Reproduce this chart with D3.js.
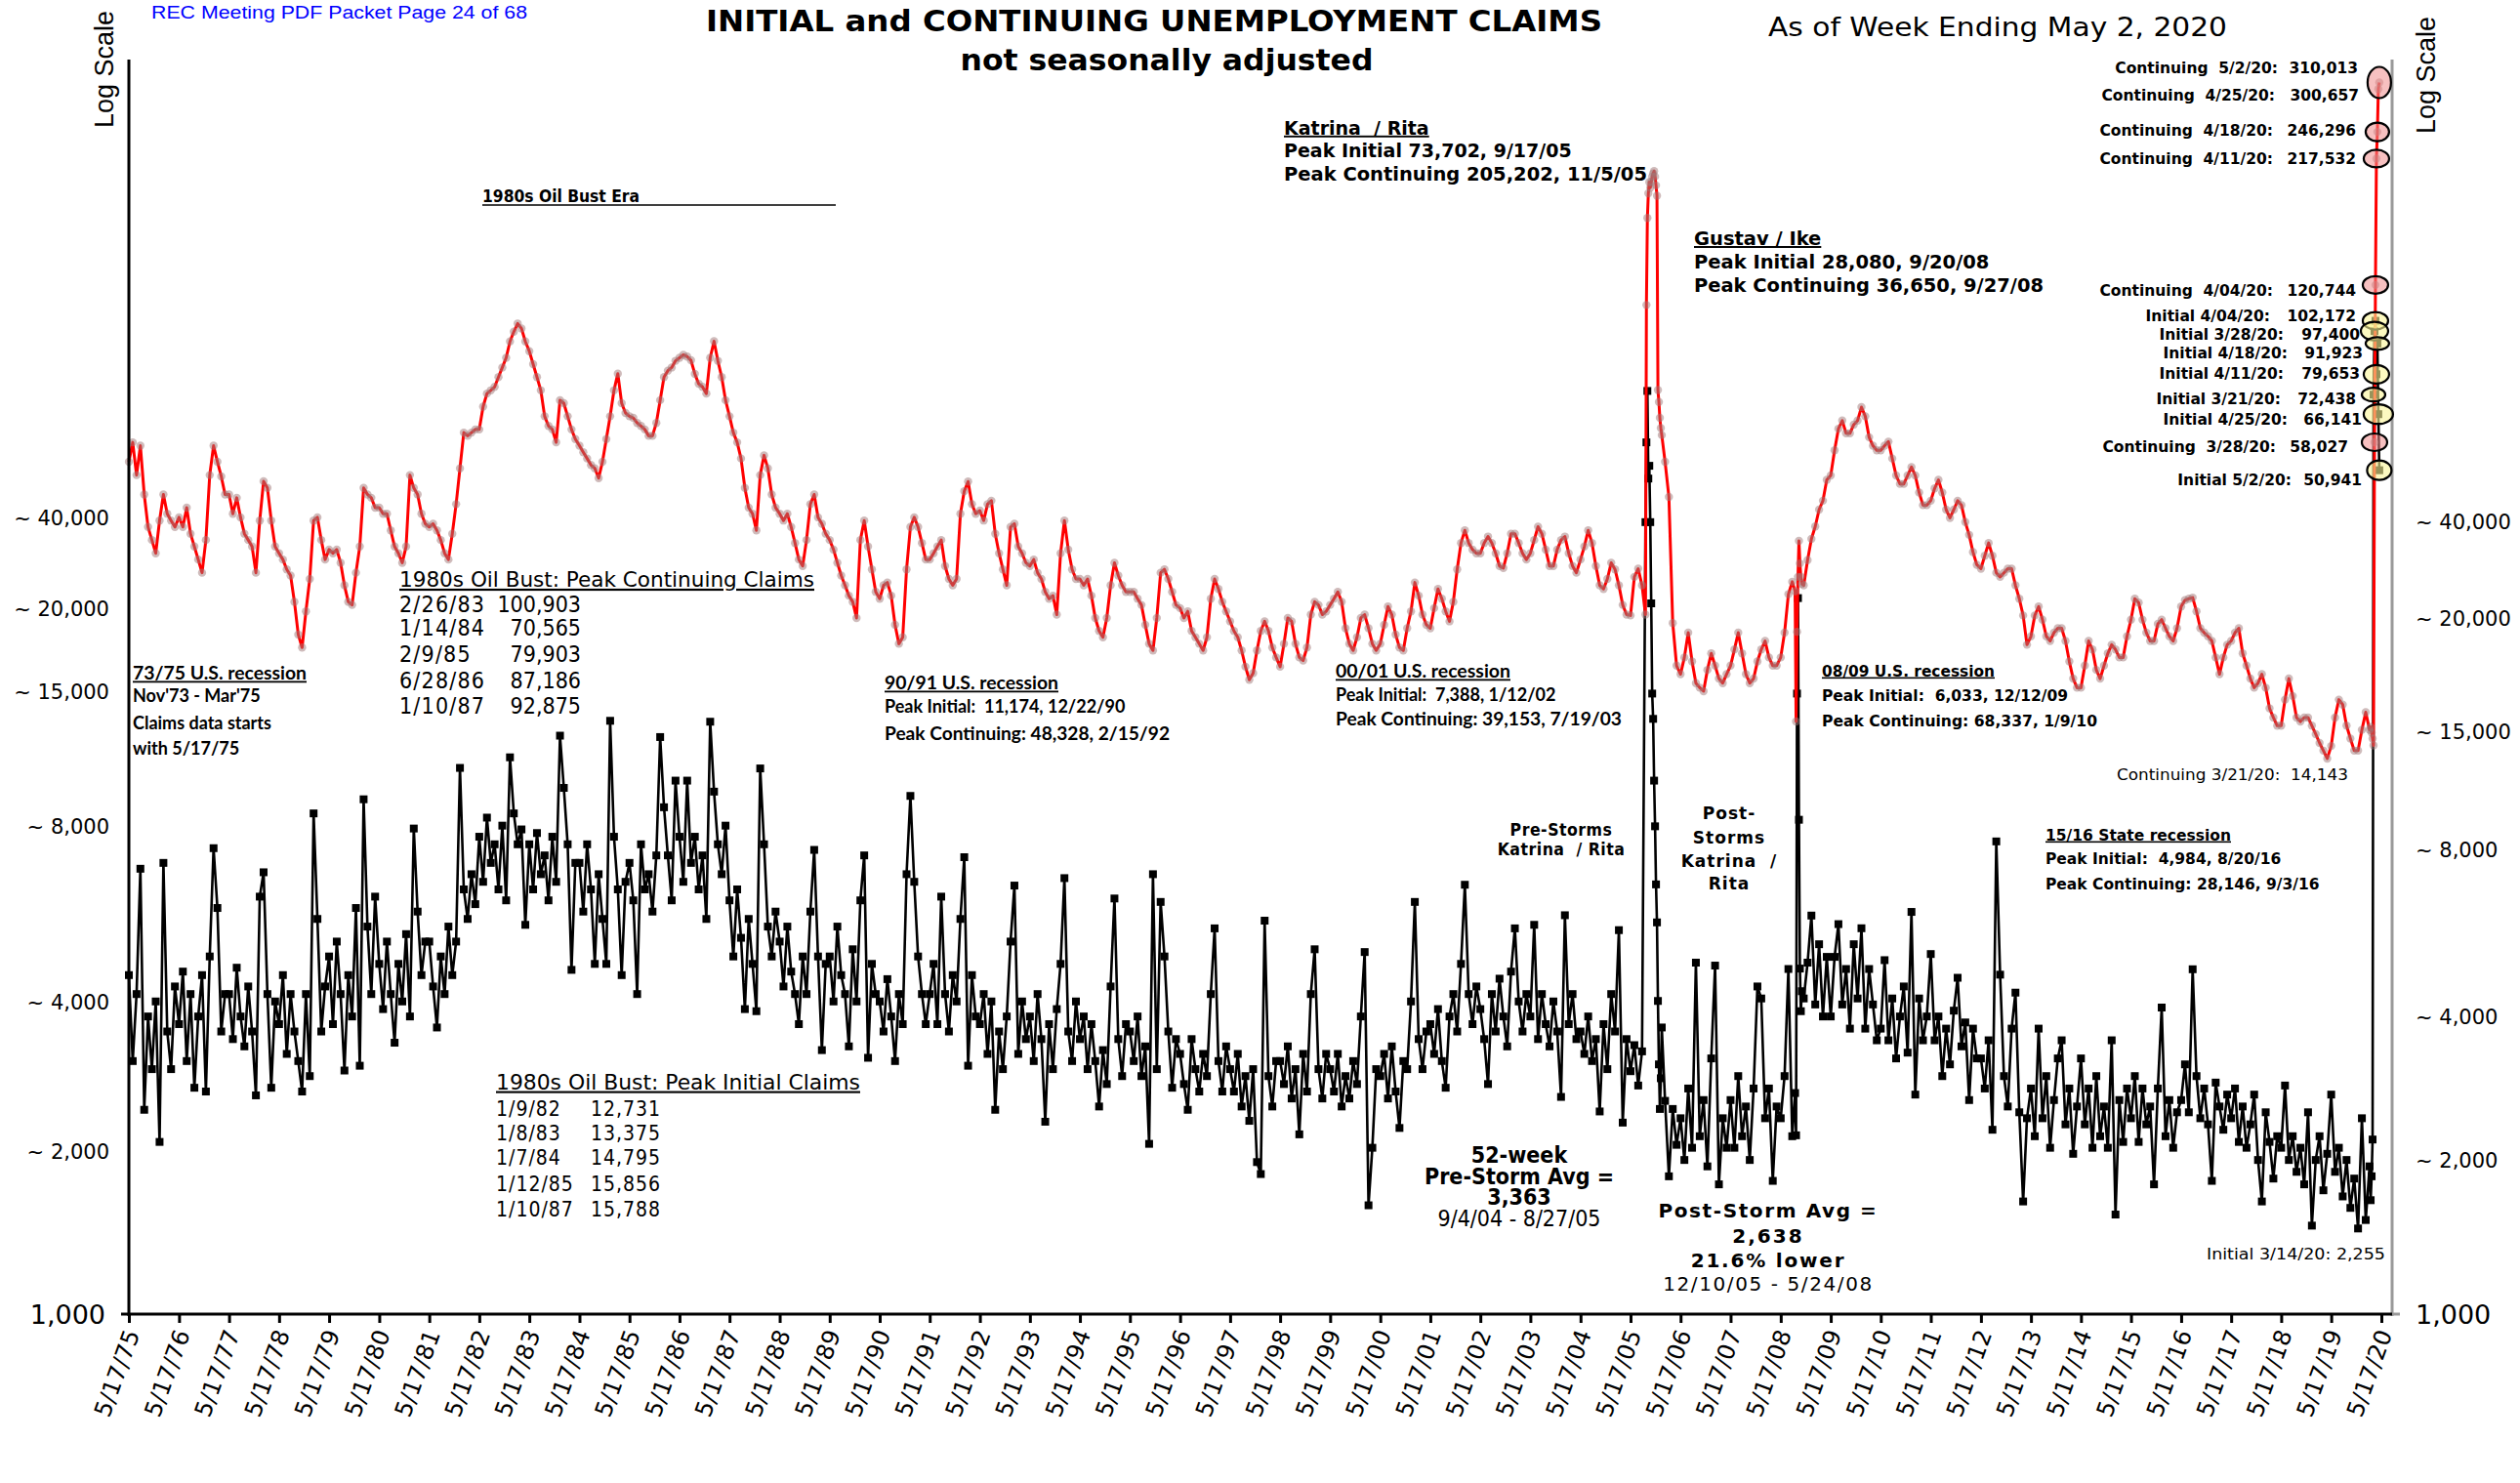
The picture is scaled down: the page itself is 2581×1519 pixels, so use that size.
<!DOCTYPE html>
<html>
<head>
<meta charset="utf-8">
<script src="https://cdn.jsdelivr.net/npm/d3@7"></script>
<style>
  html, body { margin: 0; padding: 0; background: #fff; }
  svg text { white-space: pre; }
</style>
</head>
<body>
<svg id="chart" width="2581" height="1519"></svg>
<script>
// Continuing claims, one row per year starting 5/17, a reading every 4 weeks (null = see stormWeeks)
var continuingRows = [
  [53000,58000,49800,57100,45500,39100,36800,34600,40300,45500,41600,40300,39100],
  [40900,39100,42800,37900,35700,33600,31600,36800,49800,57100,53000,49500,45500],
  [45500,41600,44800,40900,37900,36800,35700,31600,40300,48400,46900,40300,35700],
  [34600,33600,32100,31200,27600,23700,22300,26400,30700,40300,40900,36800,33600],
  [35200,34600,35200,33100,29800,27600,27200,31600,35700,46900,45500,44800,42800],
  [42800,41600,41600,38500,35700,34600,33100,35700,49800,46900,45500,41600,39700],
  [39100,39700,38500,36800,34600,33600,37900,43500,51400,60700,59800,60700,61600],
  [61600,68500,72800,73900,75100,78600,82200,86000,92800,97100,100903,98600,92800],
  [88700,83500,78600,73900,65500,62600,61600,58000,70565,69600,65500,61600,58900],
  [57100,55400,53800,52200,51400,49100,53000,58900,65500,73900,79903,69600,66500],
  [65500,65000,63500,62600,61600,59800,59800,63500,70600,78600,81000,82200,84800],
  [86000,87186,86500,85000,79800,76200,75100,72800,86000,92875,84800,78600,70600],
  [65500,60700,58000,53800,46900,42800,41600,38500,49800,54600,51400,45500,42800],
  [41600,40300,41600,39100,36300,33600,32600,36800,43500,45500,40900,39700,37900],
  [36800,35200,33100,31200,29800,28400,27600,25600,36800,40300,35700,32100,28900],
  [28000,29800,30200,28400,24800,22700,23400,32100,39100,40900,39100,36300,33600],
  [33600,34600,35700,36800,32600,30700,29800,30700,41600,46200,48328,43500,41600],
  [42200,40300,43500,44200,37900,34600,32100,29800,39100,39700,35700,34600,33100],
  [32600,33600,31600,30700,28900,28000,28400,26000,34600,40300,35200,32100,30700],
  [30700,29800,30700,28400,25600,24100,23400,25600,29800,33100,31200,29800,28900],
  [28900,28900,28000,27200,24800,22700,22000,25600,31600,32100,30700,28900,27200],
  [26800,25600,26400,24100,23400,22700,22000,23400,28000,30700,29300,27600,26400],
  [25200,24100,23400,22000,20400,19200,19800,22000,24100,25200,24100,22300,21300],
  [20400,22700,25600,25200,22700,21300,21000,22300,26000,27600,27200,26000,26400],
  [27200,28000,28900,27600,24400,22700,22000,23400,25600,26000,24400,22700,22000],
  [22700,24800,27000,26000,23700,22300,22000,24400,26400,30200,28400,26000,24800],
  [24400,26800,29300,28000,26400,25200,27600,32100,36300,38500,36300,35200,34600],
  [34600,36300,37400,36300,34600,32600,32300,34600,37900,37900,36300,34600,33600],
  [34600,36800,39153,37900,35200,32600,32600,35200,36800,37400,34600,32600,31600],
  [33600,35700,38500,36300,32600,29800,29300,30700,33100,32100,29800,27200,26000],
  [25900,31000,32200,29800,null,null,null,null,null,53000,45000,25000,20500],
  [19700,21300,23900,20900,18900,18500,18200,20100,21700,20500,19300,18900,19700],
  [20500,22100,23900,21700,19700,18900,19300,20900,22100,23000,21300,20500,20500],
  [21300,23900,28600,30300,null,null,29800,33500,37000,39200,42400,44200,48700],
  [49700,55900,61800,64200,60500,60500,63000,64200,68337,65500,59400,57100,55900],
  [55900,57100,58200,53800,49700,47800,47800,49700,51700,49700,45900,43300,43300],
  [44200,46800,48700,45900,42400,40800,42400,44200,43300,40000,37700,34800,32800],
  [32200,34200,36300,34200,31600,31000,31600,32200,32200,29800,28000,25900,22600],
  [23500,25900,27000,25400,23500,23000,23900,24400,24400,23000,20900,19300,18500],
  [18500,20500,23000,22100,20100,19300,20500,21700,22600,22100,21300,21300,23500],
  [25400,28000,27500,25400,23900,23000,23000,24900,25400,24400,23500,23000,24400],
  [27000,27800,28000,28146,26400,24400,23900,23500,23000,21300,19700,21300,22600],
  [23000,23900,24400,21700,20500,19300,18500,18900,19700,18500,16800,16100,15500],
  [15500,17500,19300,17800,16100,15800,16100,16100,15500,14900,14300,13800,13300],
  [14100,16100,17500,17100,15500,14600,13800,13800,15200,16500,15200]
];

// Initial claims, same layout
var initialRows = [
  [4850,3250,4440,7960,2590,4000,3130,4290,2230,8180,3730,3130,4600],
  [3860,4930,3250,4440,2870,4000,4850,2820,5290,8760,6630,3730,4440],
  [4440,3600,5020,4000,3480,4600,3730,2770,6990,7830,4440,2870,4290],
  [3860,4850,3360,4440,3730,3250,2820,4440,3030,10300,6300,3730,4600],
  [5290,3860,5670,4440,3110,4850,4000,6630,3180,11000,6080,4440,6990],
  [5110,4140,5670,4440,3540,5110,4290,5870,4000,9600,6520,4850,5670],
  [5670,4600,3800,5290,4440,6080,4850,5670,12731,7230,6300,7760,6750],
  [9240,7490,10100,8180,8920,7230,9730,6870,13375,10300,8920,9560,6130],
  [8920,7230,9400,7760,8470,6870,9240,7490,14795,11600,8920,4970,8180],
  [8180,6520,8920,7230,5110,7760,6300,5110,15856,9240,7230,4850,7490],
  [8180,6870,4440,8920,7230,7760,6520,8470,14700,10600,8470,6870,12000],
  [9240,7490,12000,8180,9240,7230,8470,6300,15788,11400,8920,7760,9730],
  [6870,5290,7230,5770,4140,6300,5110,4100,12700,8920,6080,5290,6520],
  [5670,4600,6080,4930,4440,3860,5290,4440,6520,8690,5290,3420,5110],
  [5290,4290,6080,4850,4440,3480,5470,4290,6870,8470,3300,5110,4440],
  [4290,3730,4760,4000,3250,4440,3860,7760,11174,7490,5290,4440,3860],
  [4440,5110,3860,6990,4440,3730,4850,4290,6300,8400,3180,4850,4000],
  [3860,4440,3360,4290,2590,3730,3130,4000,5670,7360,3360,4290,3600],
  [4000,3250,4440,3600,2450,3860,3130,4140,5110,7620,3730,3250,4290],
  [3600,4000,3130,3860,3250,2630,3420,2920,4600,6930,3600,3030,3860],
  [3730,3250,4000,3030,3480,2210,7760,3130,6820,5290,3730,2870,3600],
  [3360,2920,2590,3600,3130,2820,3360,3030,4440,6030,3250,2820,3480],
  [3130,2820,3360,2630,3030,2460,3130,2030,1920,6250,3030,2630,3250],
  [3250,2920,3480,2730,3130,2310,3360,2820,4440,5470,3130,2730,3360],
  [3130,2820,3360,2630,3030,2730,3250,2920,4000,5400,1660,2170,3130],
  [3030,3360,2730,3480,2820,2380,3250,3130,4290,6820,3600,3130,3730],
  [3860,3360,4140,3250,2870,4000,4440,3730,5110,7388,4440,3860,4600],
  [4140,3600,2920,4440,3730,4770,4000,3480,4930,6030,4290,3730,4440],
  [4000,6130,3600,4440,3860,3480,4290,3730,2750,6410,3860,4440,3600],
  [3730,3360,4000,3250,3600,2570,3860,3130,4440,3730,5980,2440,3600],
  [3100,3500,2900,3400,null,null,null,null,null,2700,1900,2600,2200],
  [2490,2050,2860,2170,5140,2290,2710,1990,3290,5070,1830,2490,2170],
  [2710,2170,3030,2290,2630,2050,2860,4600,4350,2490,2860,1860,2630],
  [2490,3030,4990,2290,null,null,4350,5140,6400,4230,5600,4000,5280],
  [4000,5280,6150,4230,4990,3780,5600,4350,6033,3780,4990,4230,3580],
  [3780,5200,3580,4350,3290,4000,4600,3380,6510,2780,4350,3580,4000],
  [5350,3580,4000,3030,3780,3200,4110,4790,3480,3890,2710,3780,3290],
  [3290,2860,3580,2360,9040,4860,3030,2630,3780,4470,2560,1690,2490],
  [2860,2290,3780,2490,3030,2170,2710,3290,3580,2420,2860,2110,2630],
  [3290,2420,2860,2170,3030,2290,2630,2170,3580,1590,2710,2230,2860],
  [2490,3030,2230,2860,2420,2630,1830,2860,4170,2290,2710,2170,2560],
  [2710,3200,2560,4984,3030,2490,2860,2420,1860,2940,2630,2360,2780],
  [2490,2860,2230,2630,2170,2420,2780,2050,1690,2560,2230,1880,2290],
  [2170,2900,2050,2290,1940,2170,1830,2560,1510,2050,2290,1780,2110],
  [2780,1940,2170,1730,2050,1640,1880,1490,2490,1550,1990]
];

// weekly readings around Katrina/Rita, Gustav/Ike and the 2020 spike
var stormWeeks = [
  "2005-09-03","2005-09-10","2005-09-17","2005-09-24","2005-10-01","2005-10-08","2005-10-15","2005-10-22","2005-10-29",
  "2005-11-05","2005-11-12","2005-11-19","2005-11-26","2005-12-03","2005-12-10","2005-12-17","2005-12-24","2005-12-31",
  "2008-08-30","2008-09-06","2008-09-13","2008-09-20","2008-09-27","2008-10-04","2008-10-11","2008-10-18",
  "2020-02-29","2020-03-07","2020-03-14","2020-03-21","2020-03-28","2020-04-04","2020-04-11","2020-04-18","2020-04-25","2020-05-02"
];
var stormContinuing = [
  26000,110000,165000,185000,195000,190000,195000,200000,203000,
  205202,200000,192000,183000,74000,70000,65000,62000,60000,
  29000,15800,24000,31000,36650,33000,31000,30000,
  15400,15000,14600,14143,58027,120744,217532,246296,300657,310013
];
var stormInitial = [
  40000,58000,73702,49000,52000,40000,27400,18000,16000,
  12000,9700,7400,6200,4300,3200,2600,3000,3800,
  2800,2300,18000,28080,10000,5000,4100,4500,
  1700,1900,2255,72438,97400,102172,79653,91923,66141,50941
];

// axis labels (the chart's own text boxes, and the values they sit at)
var leftTickLabels = ["~ 40,000","~ 20,000","~ 15,000","~ 8,000","~ 4,000","~ 2,000","1,000"];
var leftTickValues = [40800, 26700, 18200, 9700, 4270, 2130, 1000];
var rightTickLabels = ["~ 40,000","~ 20,000","~ 15,000","~ 8,000","~ 4,000","~ 2,000","1,000"];
var rightTickValues = [40000, 25500, 15100, 8700, 4000, 2050, 1000];
var tickYears = d3.range(1975, 2021);

// 1980s tables
var oilContDates = ["2/26/83","1/14/84","2/9/85","6/28/86","1/10/87"];
var oilContValues = [100903, 70565, 79903, 87186, 92875];
var oilInitDates = ["1/9/82","1/8/83","1/7/84","1/12/85","1/10/87"];
var oilInitValues = [12731, 13375, 14795, 15856, 15788];

// 2020 callouts
var calloutSeries = ["cont","cont","cont","cont","cont","init","init","init","init","init","init","cont","init"];
var calloutWeeks = ["2020-05-02","2020-04-25","2020-04-18","2020-04-11","2020-04-04","2020-04-04","2020-03-28",
                    "2020-04-18","2020-04-11","2020-03-21","2020-04-25","2020-03-28","2020-05-02"];
var calloutNames = ["Continuing  5/2/20:","Continuing  4/25/20:","Continuing  4/18/20:","Continuing  4/11/20:",
                    "Continuing  4/04/20:","Initial 4/04/20:","Initial 3/28/20:","Initial 4/18/20:","Initial 4/11/20:",
                    "Initial 3/21/20:","Initial 4/25/20:","Continuing  3/28/20:","Initial 5/2/20:"];

// ---------- layout ----------
var VERD = "'DejaVu Sans', Verdana, sans-serif";
var TAHO = "'DejaVu Sans Condensed', 'DejaVu Sans', Tahoma, sans-serif";
var CALI = "Lato, 'Open Sans', sans-serif";
var ARIAL = "'Liberation Sans', Arial, sans-serif";

var svg = d3.select('#chart');
svg.append('rect').attr('width', 2581).attr('height', 1519).attr('fill', '#fff');

var parseDay = d3.timeParse('%Y-%m-%d');
var x = d3.scaleTime().domain([new Date(1975, 4, 17), new Date(2020, 4, 17)]).range([132, 2439]);
var y = d3.scaleLog().domain([1000, 345000]).range([1346, 61]);
var fmt = d3.format(',');

function buildSeries(rows, extra) {
  var pts = [];
  rows.forEach(function(row, k) {
    var start = new Date(1975 + k, 4, 17);
    row.forEach(function(v, j) {
      if (v == null) return;
      pts.push({date: d3.timeDay.offset(start, 28 * j), value: v});
    });
  });
  stormWeeks.forEach(function(w, i) {
    pts.push({date: parseDay(w), value: extra[i]});
  });
  pts.sort(function(a, b) { return a.date - b.date; });
  return pts;
}

var contSeries = buildSeries(continuingRows, stormContinuing);
var initSeries = buildSeries(initialRows, stormInitial);

var line = d3.line().x(function(d) { return x(d.date); }).y(function(d) { return y(d.value); });

// initial claims (black, square markers)
var gInit = svg.append('g');
gInit.append('path').datum(initSeries).attr('d', line)
  .attr('fill', 'none').attr('stroke', '#000').attr('stroke-width', 2.6).attr('stroke-linejoin', 'round');
gInit.selectAll('rect').data(initSeries).enter().append('rect')
  .attr('x', function(d) { return x(d.date) - 4; })
  .attr('y', function(d) { return y(d.value) - 4; })
  .attr('width', 8).attr('height', 8).attr('fill', '#000');

// continuing claims (red, grey dot markers)
var gCont = svg.append('g');
gCont.append('path').datum(contSeries).attr('d', line)
  .attr('fill', 'none').attr('stroke', '#ff0000').attr('stroke-width', 3).attr('stroke-linejoin', 'round');
gCont.selectAll('circle').data(contSeries).enter().append('circle')
  .attr('cx', function(d) { return x(d.date); })
  .attr('cy', function(d) { return y(d.value); })
  .attr('r', 4.2).attr('fill', '#a07878').attr('fill-opacity', 0.5);

// ---------- axes ----------
svg.append('line').attr('x1', 132).attr('x2', 132).attr('y1', 61).attr('y2', 1348)
  .attr('stroke', '#000').attr('stroke-width', 3);
svg.append('line').attr('x1', 124).attr('x2', 132).attr('y1', 1346).attr('y2', 1346)
  .attr('stroke', '#000').attr('stroke-width', 3);
svg.append('line').attr('x1', 2450).attr('x2', 2450).attr('y1', 61).attr('y2', 1348)
  .attr('stroke', '#999').attr('stroke-width', 3);
svg.append('line').attr('x1', 2450).attr('x2', 2458).attr('y1', 1346).attr('y2', 1346)
  .attr('stroke', '#999').attr('stroke-width', 3);

var xAxis = d3.axisBottom(x)
  .tickValues(tickYears.map(function(yr) { return new Date(yr, 4, 17); }))
  .tickFormat(d3.timeFormat('%-m/%-d/%y'))
  .tickSize(9).tickSizeOuter(0);
var gx = svg.append('g').attr('transform', 'translate(0,1346)').call(xAxis);
gx.select('.domain').attr('d', 'M132,0H2450').attr('stroke', '#000').attr('stroke-width', 3);
gx.selectAll('.tick line').attr('stroke', '#000').attr('stroke-width', 3);
gx.selectAll('.tick text')
  .attr('x', 0).attr('y', 0).attr('dy', 0)
  .attr('transform', 'translate(11,20) rotate(-70)')
  .style('text-anchor', 'end')
  .attr('font-family', VERD).attr('font-size', 24).attr('fill', '#000');

svg.append('g').selectAll('text').data(leftTickLabels).enter().append('text')
  .attr('x', function(d, i) { return i === 6 ? 108 : 112; })
  .attr('y', function(d, i) { return y(leftTickValues[i]); })
  .attr('dy', '0.36em').attr('text-anchor', 'end')
  .attr('font-family', VERD).attr('font-size', function(d, i) { return i === 6 ? 27 : 21; })
  .text(function(d) { return d; });

svg.append('g').selectAll('text').data(rightTickLabels).enter().append('text')
  .attr('x', 2474)
  .attr('y', function(d, i) { return y(rightTickValues[i]); })
  .attr('dy', '0.36em').attr('text-anchor', 'start')
  .attr('font-family', VERD).attr('font-size', function(d, i) { return i === 6 ? 27 : 21; })
  .text(function(d) { return d; });

// ---------- text helper ----------
function txt(xp, yp, s, o) {
  o = o || {};
  var t = svg.append('text').attr('x', xp).attr('y', yp).attr('dy', '0.36em').text(s)
    .attr('font-family', o.font || VERD).attr('font-size', o.size || 16)
    .attr('text-anchor', o.anchor || 'start').attr('fill', o.color || '#000');
  if (o.bold) t.attr('font-weight', 'bold');
  if (o.under) t.attr('text-decoration', 'underline');
  if (o.len) t.attr('textLength', o.len).attr('lengthAdjust', 'spacingAndGlyphs');
  if (o.ls) t.attr('letter-spacing', o.ls);
  return t;
}

// header
txt(155, 13, 'REC Meeting PDF Packet Page 24 of 68', {font: ARIAL, size: 18, color: '#0000ff', len: 385});
txt(1182, 21, 'INITIAL and CONTINUING UNEMPLOYMENT CLAIMS', {font: TAHO, size: 30, bold: true, anchor: 'middle', len: 918});
txt(1195, 61, 'not seasonally adjusted', {font: TAHO, size: 30, bold: true, anchor: 'middle', len: 423});
txt(1811, 28, 'As of Week Ending May 2, 2020', {font: VERD, size: 26, len: 470});
svg.append('text').attr('transform', 'translate(106,71) rotate(-90)').attr('dy', '0.36em')
  .attr('text-anchor', 'middle').attr('font-family', ARIAL).attr('font-size', 27).text('Log Scale');
svg.append('text').attr('transform', 'translate(2484,77) rotate(-90)').attr('dy', '0.36em')
  .attr('text-anchor', 'middle').attr('font-family', ARIAL).attr('font-size', 27).text('Log Scale');

// event notes
txt(494, 201, '1980s Oil Bust Era', {font: TAHO, size: 17, bold: true, len: 161});
svg.append('line').attr('x1', 494).attr('x2', 856).attr('y1', 210).attr('y2', 210).attr('stroke', '#000').attr('stroke-width', 1.5);

txt(1315, 131, 'Katrina  / Rita', {size: 19, bold: true, under: true});
txt(1315, 154, 'Peak Initial 73,702, 9/17/05', {size: 19, bold: true});
txt(1315, 178, 'Peak Continuing 205,202, 11/5/05', {size: 19, bold: true, len: 372});

txt(1735, 244, 'Gustav / Ike', {size: 19.5, bold: true, under: true});
txt(1735, 268, 'Peak Initial 28,080, 9/20/08', {size: 19.5, bold: true});
txt(1735, 292, 'Peak Continuing 36,650, 9/27/08', {size: 19.5, bold: true, len: 358});

txt(136, 690, '73/75 U.S. recession', {font: CALI, size: 18, bold: true, under: true, len: 178});
txt(136, 713, "Nov'73 - Mar'75", {font: CALI, size: 18, bold: true});
txt(136, 741, 'Claims data starts', {font: CALI, size: 18, bold: true});
txt(136, 767, 'with 5/17/75', {font: CALI, size: 18, bold: true});

txt(906, 700, '90/91 U.S. recession', {font: CALI, size: 18, bold: true, under: true, len: 178});
txt(906, 724, 'Peak Initial:  11,174, 12/22/90', {font: CALI, size: 18, bold: true});
txt(906, 752, 'Peak Continuing: 48,328, 2/15/92', {font: CALI, size: 18, bold: true, len: 292});

txt(1368, 688, '00/01 U.S. recession', {font: CALI, size: 18, bold: true, under: true, len: 179});
txt(1368, 712, 'Peak Initial:  7,388, 1/12/02', {font: CALI, size: 18, bold: true});
txt(1368, 737, 'Peak Continuing: 39,153, 7/19/03', {font: CALI, size: 18, bold: true, len: 293});

txt(1866, 687, '08/09 U.S. recession', {size: 15.5, bold: true, under: true, len: 177});
txt(1866, 712, 'Peak Initial:  6,033, 12/12/09', {size: 15.5, bold: true});
txt(1866, 738, 'Peak Continuing: 68,337, 1/9/10', {size: 15.5, bold: true, len: 282});

txt(2095, 855, '15/16 State recession', {size: 15.5, bold: true, under: true, len: 190});
txt(2095, 879, 'Peak Initial:  4,984, 8/20/16', {size: 15.5, bold: true});
txt(2095, 905, 'Peak Continuing: 28,146, 9/3/16', {size: 15.5, bold: true});

txt(2405, 793, 'Continuing 3/21/20:  ' + fmt(14143), {size: 15.5, anchor: 'end', len: 237});
txt(2443, 1285, 'Initial 3/14/20: ' + fmt(2255), {font: TAHO, size: 15, anchor: 'end', len: 183});

txt(1599, 850, 'Pre-Storms', {font: TAHO, size: 17.5, bold: true, anchor: 'middle', ls: 0.5});
txt(1599, 870, 'Katrina  / Rita', {font: TAHO, size: 17.5, bold: true, anchor: 'middle', ls: 0.5});

['Post-', 'Storms', 'Katrina  /', 'Rita'].forEach(function(s, i) {
  txt(1771, [833, 858, 882, 905][i], s, {size: 17, bold: true, anchor: 'middle', ls: 1});
});

txt(1556, 1183, '52-week', {font: TAHO, size: 23, bold: true, anchor: 'middle'});
txt(1556, 1205, 'Pre-Storm Avg =', {font: TAHO, size: 23, bold: true, anchor: 'middle'});
txt(1556, 1226, '3,363', {font: TAHO, size: 23, bold: true, anchor: 'middle'});
txt(1556, 1248, '9/4/04 - 8/27/05', {font: TAHO, size: 23, anchor: 'middle'});

txt(1811, 1240, 'Post-Storm Avg =', {size: 20, bold: true, anchor: 'middle', ls: 1.6});
txt(1811, 1266, '2,638', {size: 20, bold: true, anchor: 'middle', ls: 2});
txt(1811, 1291, '21.6% lower', {size: 20, bold: true, anchor: 'middle', ls: 1.8});
txt(1811, 1315, '12/10/05 - 5/24/08', {size: 20, anchor: 'middle', ls: 1.6});

// 1980s tables
txt(409, 593, '1980s Oil Bust: Peak Continuing Claims', {font: TAHO, size: 22, under: true, len: 425});
oilContDates.forEach(function(d, i) {
  var yy = [619, 643, 670, 697, 723][i];
  txt(409, yy, d, {font: TAHO, size: 23, ls: 1.2});
  txt(595, yy, fmt(oilContValues[i]), {font: TAHO, size: 23, anchor: 'end'});
});
txt(508, 1108, '1980s Oil Bust: Peak Initial Claims', {font: TAHO, size: 21, under: true, len: 373});
oilInitDates.forEach(function(d, i) {
  var yy = [1135, 1160, 1185, 1212, 1238][i];
  txt(508, yy, d, {font: TAHO, size: 21, ls: 1});
  txt(605, yy, fmt(oilInitValues[i]), {font: TAHO, size: 21, ls: 1});
});

// ---------- 2020 callouts ----------
var calloutY = [69, 97, 133, 162, 297, 323, 342, 361, 382, 408, 429, 457, 491];
var nameEnd = [2333, 2330, 2328, 2328, 2328, 2325, 2339, 2343, 2339, 2336, 2343, 2331, 2347];
var valueEnd = [2415, 2416, 2413, 2413, 2413, 2413, 2417, 2420, 2417, 2413, 2419, 2405, 2419];
var ellRx = [12, 0, 12, 13, 13, 13, 14, 12, 13, 12, 15, 13, 12.5];
var ellRy = [16, 0, 9.5, 9, 9, 9, 9.5, 6.5, 9.5, 7, 10, 9, 10];

var gCall = svg.append('g');
calloutWeeks.forEach(function(w, i) {
  var k = stormWeeks.indexOf(w);
  var v = calloutSeries[i] === 'cont' ? stormContinuing[k] : stormInitial[k];
  if (ellRx[i] > 0) {
    gCall.append('ellipse')
      .attr('cx', x(parseDay(w))).attr('cy', y(v))
      .attr('rx', ellRx[i]).attr('ry', ellRy[i])
      .attr('fill', calloutSeries[i] === 'cont' ? 'rgba(240,140,140,0.55)' : 'rgba(250,245,150,0.6)')
      .attr('stroke', '#000').attr('stroke-width', 2.2);
  }
  txt(nameEnd[i], calloutY[i], calloutNames[i], {size: 15.5, bold: true, anchor: 'end'});
  txt(valueEnd[i], calloutY[i], fmt(v), {size: 15.5, bold: true, anchor: 'end'});
});
</script>
</body>
</html>
